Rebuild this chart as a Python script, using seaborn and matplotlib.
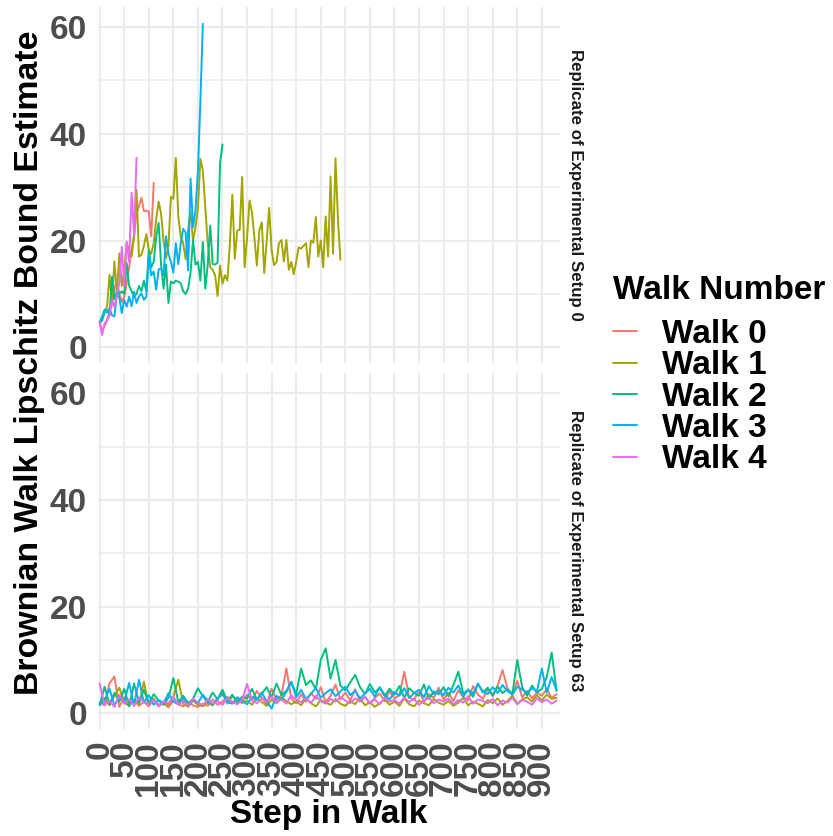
import numpy as np
import pandas as pd
import matplotlib
matplotlib.use("Agg")
import matplotlib.pyplot as plt
import seaborn as sns

# ---------------------------------------------------------------- data
walk_names = ["Walk 0", "Walk 1", "Walk 2", "Walk 3", "Walk 4"]
walk_colors = ["#F8766D", "#A3A500", "#00BF7D", "#00B0F6", "#E76BF3"]
setup_labels = ["Replicate of Experimental Setup 0",
                "Replicate of Experimental Setup 63"]

# Setup 0: one estimate every 5 steps, walks stop at different lengths
setup0_step = 5
setup0_walk0 = [4.5, 3.2, 4.0, 5.2, 6.5, 8.0, 11.0, 12.5, 10.0, 8.5, 9.5, 12.0,
                15.0, 18.3, 21.0, 25.0, 26.5, 28.0, 25.5, 25.6, 25.4, 20.8, 30.8]
setup0_walk1 = [4.8, 5.5, 7.0, 7.5, 13.6, 8.3, 16.1, 10.1, 17.6, 11.5, 14.0, 19.5,
                18.2, 17.0, 20.7, 29.5, 17.0, 17.3, 19.0, 21.2, 18.2, 17.5, 19.5, 24.0,
                27.3, 25.0, 20.0, 16.7, 19.0, 28.2, 27.8, 35.5, 24.5, 20.7, 19.5, 16.5,
                22.0, 25.3, 20.0, 22.5, 26.0, 35.3, 33.1, 26.2, 19.5, 15.0, 14.5, 13.5,
                9.6, 15.3, 11.9, 13.5, 12.5, 19.4, 28.6, 16.6, 21.9, 22.0, 31.9, 15.0,
                20.5, 27.5, 25.3, 20.5, 15.3, 21.9, 23.4, 13.9, 20.0, 26.1, 18.2, 15.4,
                16.0, 19.5, 20.1, 16.1, 20.1, 14.5, 16.0, 13.7, 16.0, 18.7, 18.5, 19.0,
                19.5, 15.0, 20.0, 19.6, 24.4, 17.0, 20.0, 15.0, 24.5, 17.0, 32.0, 17.5,
                35.4, 24.0, 16.4]
setup0_walk2 = [4.5, 5.0, 6.5, 7.0, 6.0, 13.2, 9.0, 10.5, 10.0, 10.5, 10.0, 15.8,
                11.5, 10.5, 9.5, 10.0, 11.5, 10.5, 12.5, 10.5, 18.2, 15.0, 16.0, 20.7,
                23.3, 15.5, 11.0, 15.5, 8.3, 12.3, 12.0, 12.5, 12.3, 12.0, 10.5, 10.0,
                11.0, 14.0, 20.1, 15.5, 16.0, 12.5, 19.7, 11.0, 15.5, 22.8, 15.6, 15.5,
                15.9, 34.5, 38.0]
setup0_walk3 = [4.5, 5.8, 7.0, 6.5, 7.3, 6.0, 5.8, 10.1, 9.3, 6.4, 8.9, 7.6,
                9.5, 7.7, 10.4, 8.3, 9.5, 10.1, 8.9, 9.5, 17.0, 13.5, 14.2, 10.8,
                14.6, 14.8, 13.5, 20.8, 17.5, 16.0, 14.0, 19.5, 15.6, 19.4, 22.2, 21.5,
                14.4, 31.6, 22.5, 25.6, 33.0, 46.0, 60.6]
setup0_walk4 = [4.8, 2.3, 4.5, 5.0, 6.0, 8.9, 7.5, 9.8, 12.0, 18.8, 11.5, 19.8,
                16.0, 29.0, 21.0, 35.5]

# Setup 63: one estimate every 10 steps
setup63_step = 10
setup63_walk0 = [2.0, 1.5, 5.6, 6.9, 1.2, 3.0, 1.8, 2.5, 1.4, 2.2,
                 1.3, 2.6, 1.6, 1.9, 1.1, 2.4, 1.7, 1.3, 2.1, 1.5,
                 1.2, 1.8, 1.4, 2.6, 1.6, 2.2, 3.1, 1.9, 2.7, 2.0,
                 3.5, 2.4, 4.2, 2.9, 1.7, 4.6, 2.5, 3.4, 8.4, 2.8,
                 1.9, 3.6, 2.2, 3.8, 2.7, 4.9, 2.1, 3.3, 5.4, 2.6,
                 3.9, 2.4, 4.5, 2.2, 3.1, 1.8, 2.9, 3.7, 2.3, 4.1,
                 2.8, 3.4, 7.8, 3.0, 2.5, 4.4, 2.1, 3.6, 2.9, 4.8,
                 2.6, 3.8, 2.3, 4.3, 3.1, 2.4, 5.1, 3.5, 2.7, 4.6,
                 3.2, 5.2, 8.1, 4.7, 3.5, 6.1, 3.0, 4.2, 2.8, 3.9,
                 3.3, 4.5, 2.9, 3.6]
setup63_walk1 = [1.8, 2.9, 1.5, 3.3, 4.8, 2.0, 1.4, 2.6, 1.7, 5.9,
                 1.6, 2.8, 1.3, 2.2, 1.5, 3.1, 6.3, 1.8, 1.2, 2.4,
                 1.6, 1.3, 2.0, 1.5, 2.7, 3.9, 1.8, 3.2, 2.5, 1.9,
                 2.4, 1.6, 2.9, 2.1, 1.4, 2.6, 1.9, 3.0, 2.3, 1.7,
                 2.2, 1.5, 2.8, 1.9, 1.3, 2.5, 2.0, 1.6, 2.7, 1.8,
                 1.4, 2.3, 1.7, 2.9, 1.5, 2.1, 1.2, 1.9, 2.6, 1.6,
                 2.2, 1.4, 2.8, 1.7, 1.3, 2.4, 1.9, 1.5, 2.7, 2.0,
                 1.6, 2.3, 1.4, 2.0, 2.9, 1.5, 2.2, 1.8, 1.3, 2.5,
                 1.9, 2.8, 1.6, 2.3, 3.3, 1.8, 2.6, 3.0, 2.2, 3.4,
                 2.4, 3.5, 2.7, 2.9]
setup63_walk2 = [1.5, 5.0, 1.7, 3.8, 2.2, 4.6, 1.3, 5.6, 2.0, 4.4,
                 1.8, 3.6, 2.4, 1.6, 2.9, 6.6, 2.1, 3.3, 1.9, 2.7,
                 4.7, 3.2, 2.1, 3.9, 2.6, 4.4, 2.3, 3.5, 2.0, 3.1,
                 2.8, 4.6, 2.5, 3.7, 4.9, 3.0, 5.6, 3.4, 4.2, 5.9,
                 3.6, 8.4, 5.3, 6.2, 4.5, 10.0, 12.2, 6.5, 10.0, 5.2,
                 4.3, 5.8, 7.2, 4.9, 3.6, 5.5, 3.9, 4.8, 3.2, 4.6,
                 3.5, 5.1, 2.9, 4.7, 3.8, 3.3, 5.4, 2.7, 4.1, 3.6,
                 4.9, 3.2, 5.3, 7.8, 3.7, 4.4, 3.1, 5.6, 3.9, 4.8,
                 3.4, 5.0, 3.8, 4.5, 3.6, 10.0, 4.9, 3.3, 5.2, 3.9,
                 4.6, 6.8, 11.4, 4.2]
setup63_walk3 = [1.6, 2.4, 4.6, 1.5, 3.2, 2.1, 5.7, 1.4, 6.3, 2.0,
                 3.4, 1.6, 2.5, 1.9, 3.8, 2.2, 1.7, 2.9, 1.5, 2.6,
                 1.9, 3.5, 2.3, 1.6, 2.8, 3.6, 2.1, 1.8, 3.0, 2.4,
                 1.7, 3.1, 2.6, 3.9, 2.2, 0.9, 3.3, 2.5, 4.0, 5.9,
                 3.0, 4.4, 2.7, 3.6, 4.8, 2.9, 3.8, 4.5, 3.2, 4.1,
                 5.0, 3.4, 4.2, 2.8, 3.7, 4.6, 3.1, 4.9, 3.5, 2.6,
                 4.0, 3.3, 4.7, 2.9, 3.8, 4.4, 3.0, 5.1, 3.6, 4.2,
                 3.4, 4.8, 3.9, 5.2, 3.1, 4.5, 3.7, 5.5, 4.1, 3.6,
                 4.9, 3.8, 5.3, 4.2, 3.5, 5.0, 4.4, 3.9, 4.7, 4.1,
                 8.4, 3.9, 6.8, 4.3]
setup63_walk4 = [5.6, 1.5, 2.3, 1.2, 3.5, 1.8, 2.6, 1.4, 3.0, 2.1,
                 1.7, 2.5, 1.3, 2.2, 1.9, 3.1, 1.6, 2.4, 1.4, 2.8,
                 2.0, 1.5, 2.7, 1.8, 2.3, 1.6, 2.9, 2.1, 1.7, 2.5,
                 5.5, 2.4, 1.9, 2.8, 2.2, 3.2, 2.0, 2.6, 1.8, 3.4,
                 2.5, 2.1, 2.9, 1.9, 3.3, 2.3, 1.8, 2.7, 2.2, 3.0,
                 2.4, 1.9, 2.8, 2.3, 3.1, 2.0, 2.6, 1.7, 2.9, 2.2,
                 2.5, 1.8, 3.0, 2.1, 2.7, 1.6, 2.4, 2.9, 1.9, 2.6,
                 2.2, 2.8, 1.7, 2.5, 2.0, 3.2, 1.8, 2.6, 2.3, 1.9,
                 2.7, 1.5, 2.4, 2.0, 2.9, 1.7, 2.5, 2.2, 1.6, 2.8,
                 2.1, 2.6, 1.8, 2.4]

x_ticks = list(range(0, 901, 50))
y_ticks = [0, 20, 40, 60]


def long_table(series, step):
    rows = []
    for name, values in zip(walk_names, series):
        for i, v in enumerate(values):
            rows.append((name, i * step, v))
    return pd.DataFrame(rows, columns=["walk", "step", "estimate"])


panels = [
    long_table([setup0_walk0, setup0_walk1, setup0_walk2, setup0_walk3, setup0_walk4],
               setup0_step),
    long_table([setup63_walk0, setup63_walk1, setup63_walk2, setup63_walk3, setup63_walk4],
               setup63_step),
]

# ---------------------------------------------------------------- style
sns.set_theme(style="white")
plt.rcParams["font.family"] = ["Liberation Sans", "DejaVu Sans"]
plt.rcParams["font.weight"] = "bold"
plt.rcParams["text.color"] = "black"

W, H = 833, 836
fig = plt.figure(figsize=(W / 100, H / 100), dpi=100)
fig.patch.set_facecolor("white")

left, right = 98 / W, 560 / W
panel_px = [(6.7, 363.0), (373.0, 729.0)]
palette = dict(zip(walk_names, walk_colors))
axes = []
for k, (top_px, bot_px) in enumerate(panel_px):
    ax = fig.add_axes([left, 1 - bot_px / H, right - left, (bot_px - top_px) / H])
    sns.lineplot(data=panels[k], x="step", y="estimate", hue="walk",
                 hue_order=walk_names, palette=palette, estimator=None,
                 sort=False, linewidth=1.4, ax=ax, legend=(k == 0))
    ax.set_xlim(-3.4, 937)
    ax.set_ylim(-2.94, 63.8)
    ax.set_xticks(x_ticks)
    ax.set_yticks(y_ticks)
    ax.set_yticks([10, 30, 50], minor=True)
    ax.grid(which="major", color="#EBEBEB", linewidth=1.5)
    ax.grid(which="minor", axis="y", color="#EBEBEB", linewidth=1.1)
    ax.set_axisbelow(True)
    for s in ax.spines.values():
        s.set_visible(False)
    ax.tick_params(axis="both", which="both", length=0)
    ax.tick_params(axis="y", pad=8)
    ax.tick_params(axis="x", pad=8)
    for lab in ax.get_yticklabels():
        lab.set_fontsize(24)
        lab.set_fontweight("bold")
        lab.set_color("#4D4D4D")
    ax.set_xlabel("")
    ax.set_ylabel("")
    # facet strip on the right side
    fig.text(575 / W, 1 - (top_px + bot_px) / 2 / H, setup_labels[k],
             rotation=-90, ha="center", va="center", fontsize=12.2,
             fontweight="bold", color="#1A1A1A")
    axes.append(ax)

axes[0].set_xticklabels([])
axes[1].set_xticklabels([str(t) for t in x_ticks], rotation=90, ha="center",
                        va="top", fontsize=24, fontweight="bold", color="#4D4D4D")

# axis titles shared by both facets
fig.text(29.5 / W, 1 - 363 / H, "Brownian Walk Lipschitz Bound Estimate",
         rotation=90, ha="center", va="center", fontsize=24.4, fontweight="bold",
         color="black")
fig.text(329 / W, 1 - 823 / H, "Step in Walk", ha="center", va="baseline",
         fontsize=24, fontweight="bold", color="black")

# legend
handles, labels = axes[0].get_legend_handles_labels()
axes[0].get_legend().remove()
leg = fig.legend(handles, labels, title="Walk Number", loc="upper left",
                 bbox_to_anchor=(600 / W, 1 - 262 / H), frameon=False,
                 prop={"size": 24, "weight": "bold"},
                 title_fontproperties={"size": 24, "weight": "bold"},
                 handlelength=0.7, handletextpad=0.75, labelspacing=0.01,
                 borderaxespad=0, alignment="left")
leg._legend_box.sep = 9
leg.get_title().set_color("black")
for t in leg.get_texts():
    t.set_color("black")
for h in leg.legend_handles:
    h.set_linewidth(1.4)

fig.savefig("out.png", dpi=100)
